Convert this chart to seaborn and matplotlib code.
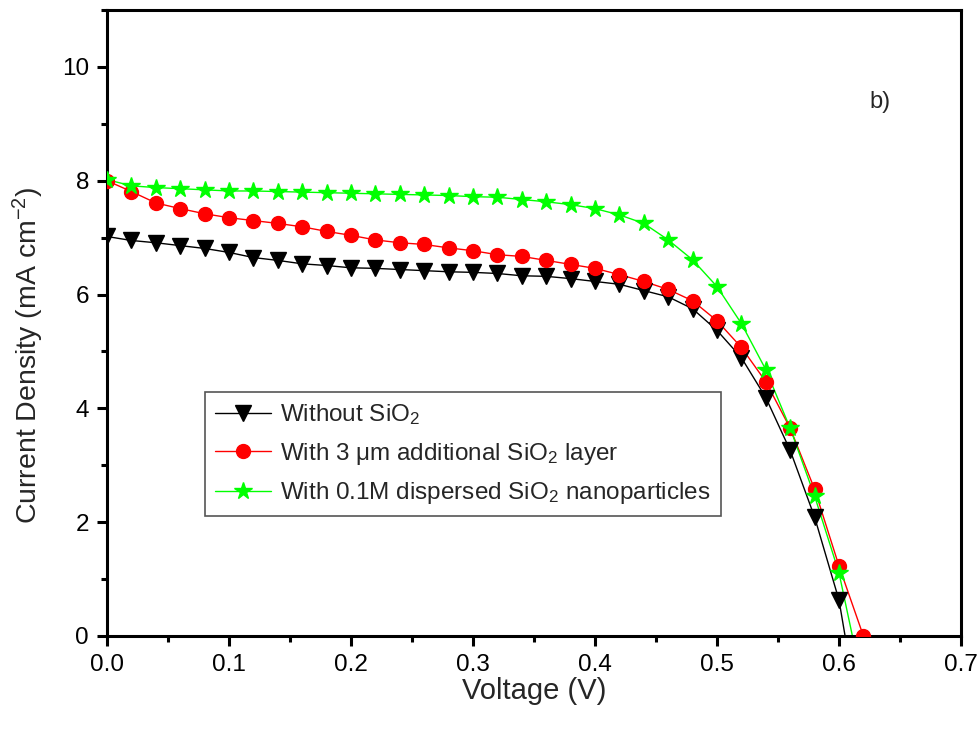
import matplotlib
matplotlib.use("Agg")
import matplotlib.pyplot as plt
from matplotlib.lines import Line2D
from matplotlib.ticker import MultipleLocator
import numpy as np
import pandas as pd
import seaborn as sns

# J-V data (voltage in V, current density in mA cm^-2), sampled every 0.02 V
voltage = [0.00, 0.02, 0.04, 0.06, 0.08, 0.10, 0.12, 0.14, 0.16, 0.18,
           0.20, 0.22, 0.24, 0.26, 0.28, 0.30, 0.32, 0.34, 0.36, 0.38,
           0.40, 0.42, 0.44, 0.46, 0.48, 0.50, 0.52, 0.54, 0.56, 0.58, 0.60]

j_without = [7.02, 6.95, 6.91, 6.86, 6.81, 6.74, 6.65, 6.60, 6.54, 6.51,
             6.47, 6.46, 6.44, 6.42, 6.40, 6.39, 6.37, 6.33, 6.32, 6.28,
             6.23, 6.18, 6.07, 5.96, 5.75, 5.37, 4.89, 4.19, 3.26, 2.09, 0.63]

j_layer = [8.00, 7.81, 7.61, 7.51, 7.42, 7.35, 7.30, 7.25, 7.19, 7.11,
           7.04, 6.96, 6.91, 6.88, 6.82, 6.77, 6.70, 6.67, 6.60, 6.53,
           6.46, 6.35, 6.23, 6.09, 5.89, 5.54, 5.07, 4.47, 3.65, 2.58, 1.23]

j_nano = [8.02, 7.91, 7.88, 7.86, 7.84, 7.82, 7.82, 7.81, 7.80, 7.79,
          7.78, 7.77, 7.76, 7.75, 7.74, 7.72, 7.71, 7.67, 7.63, 7.58,
          7.51, 7.40, 7.25, 6.96, 6.61, 6.14, 5.49, 4.68, 3.65, 2.46, 1.11]

# open-circuit points (J = 0)
voc_without = 0.605
voc_layer = 0.62
voc_nano = 0.611

labels = ["Without SiO$_2$",
          "With 3 \u03bcm additional SiO$_2$ layer",
          "With 0.1M dispersed SiO$_2$ nanoparticles"]
colors = ["#000000", "#ff0000", "#00ff00"]
markers = ["v", "o", "*"]
marker_sizes = [11, 10, 13]

sns.set_style("white")
plt.rcParams["font.family"] = ["Liberation Sans", "DejaVu Sans"]
plt.rcParams["mathtext.fontset"] = "custom"
plt.rcParams["mathtext.rm"] = "Liberation Sans"
plt.rcParams["mathtext.it"] = "Liberation Sans:italic"

fig = plt.figure(figsize=(9.79, 7.35), dpi=100)
ax = fig.add_axes([107 / 979, 1 - 636 / 735, (961 - 107) / 979, (636 - 10) / 735])

series = [
    (j_without, voc_without, True),
    (j_layer, voc_layer, False),
    (j_nano, voc_nano, True),
]

handles = []
for (j, voc, bare_end), lab, col, mk, ms in zip(series, labels, colors, markers, marker_sizes):
    line_df = pd.DataFrame({"V": voltage + [voc], "J": j + [0.0]})
    sns.lineplot(data=line_df, x="V", y="J", ax=ax, color=col, lw=1.0,
                 sort=False, estimator=None, legend=False)
    mark_df = line_df.iloc[:-1] if bare_end else line_df
    ax.plot(mark_df["V"], mark_df["J"], linestyle="none", marker=mk,
            markersize=ms, color=col, markeredgecolor=col, zorder=3)
    handles.append(Line2D([], [], color=col, lw=1.0, marker=mk,
                          markersize=ms, markeredgecolor=col))

ax.set_xlim(0, 0.7)
ax.set_ylim(0, 11)
ax.xaxis.set_major_locator(MultipleLocator(0.1))
ax.xaxis.set_minor_locator(MultipleLocator(0.05))
ax.yaxis.set_major_locator(MultipleLocator(2))
ax.yaxis.set_minor_locator(MultipleLocator(1))
ax.set_xticks(np.arange(0, 0.71, 0.1))
ax.set_xticklabels([f"{v:.1f}" for v in np.arange(0, 0.71, 0.1)])

for sp in ax.spines.values():
    sp.set_linewidth(2.2)
    sp.set_color("black")

ax.tick_params(which="major", direction="out", length=7, width=2.2,
               labelsize=17.5, pad=6, bottom=True, left=True, colors="black")
ax.tick_params(which="minor", direction="out", length=4.5, width=2.2,
               bottom=True, left=True, colors="black")

ax.set_xlabel("Voltage (V)", fontsize=21, labelpad=1)
ax.set_ylabel("Current Density (mA cm$^{-2}$)", fontsize=20.5)
ax.yaxis.set_label_coords(-0.071, 0.449)

ax.text(0.905, 0.853, "b)", transform=ax.transAxes, fontsize=17,
        ha="center", va="center")

leg = ax.legend(handles, labels, loc="upper left",
                bbox_to_anchor=(0.115, 0.39), fontsize=17.5,
                frameon=True, fancybox=False, framealpha=1,
                edgecolor="#555555", handlelength=2.3, handletextpad=0.35,
                borderpad=0.42, labelspacing=0.56, borderaxespad=0)
leg.get_frame().set_linewidth(1.2)

fig.savefig("out.png", dpi=100)
